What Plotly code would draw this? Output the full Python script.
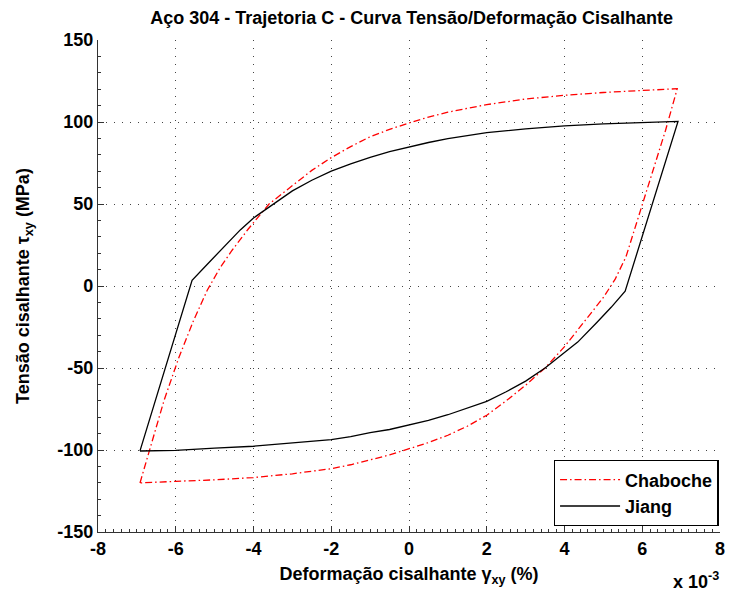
import plotly.graph_objects as go

# Shear strain (x 10^-3) and shear stress (MPa) for the closed hysteresis loops
chab_up_x = [-6.92, -6.6, -6.3, -5.93, -5.55, -5.19, -4.85, -4.55, -4.14, -3.6,
             -3.0, -2.5, -2.0, -1.5, -1.0, -0.5, 0.0, 0.5, 1.0, 1.5, 2.0, 3.0, 4.0,
             5.0, 6.0, 6.9]
chab_up_y = [-120.1, -94, -69.7, -44.3, -21.5, -2.6, 11.5, 21.8, 34.6, 50,
             61, 70.5, 78.3, 85, 91, 95.5, 99.4, 103, 106, 108.5, 110.6, 114, 116.3,
             118, 119.3, 120.3]
chab_dn_x = [6.9, 6.6, 6.3, 6.06, 5.58, 5.3, 5.0, 4.75, 4.5, 4.0, 3.5, 3.0, 2.5, 2.0,
             1.5, 1.0, 0.5, 0.0, -0.5, -1.0, -1.5, -2.0, -3.0, -4.0, -5.0, -6.0, -6.92]
chab_dn_y = [120.3, 95, 72.6, 54.3, 17.7, 4, -7, -14.5, -22, -37, -50, -60.5, -70, -78.8,
             -85.5, -91, -95.5, -99.2, -103, -106, -109, -111.4, -114.5, -116.8, -118.2,
             -119.1, -120.1]

jiang_up_x = [-6.92, -5.58, -5.2, -4.85, -4.34, -4.0, -3.5, -3.0, -2.5, -2.0, -1.5,
              -1.0, -0.5, 0.0, 0.5, 1.0, 1.5, 2.0, 3.0, 4.0, 5.0, 6.0, 6.92]
jiang_up_y = [-100.5, 3.5, 13, 21.8, 34.2, 41.5, 50, 58, 64.5, 70.1, 74.5,
              78.5, 82, 84.8, 87.5, 89.8, 91.8, 93.5, 95.8, 97.6, 98.8, 99.6, 100.4]
jiang_dn_x = [6.92, 5.56, 5.2, 4.85, 4.34, 4.0, 3.5, 3.0, 2.5, 2.0, 1.5,
              1.0, 0.5, 0.0, -0.5, -1.0, -1.5, -2.0, -3.0, -4.0, -5.0, -6.0, -6.92]
jiang_dn_y = [100.4, -3.2, -13, -21.8, -34.2, -40.5, -50, -58, -64.5, -70.3, -74.5,
              -78.5, -82, -84.9, -87.5, -89.4, -91.8, -93.7, -95.8, -97.7, -98.9, -100.2, -100.6]

x_ticks = [-8, -6, -4, -2, 0, 2, 4, 6, 8]
y_ticks = [-150, -100, -50, 0, 50, 100, 150]

FONT = "Liberation Sans"

fig = go.Figure()
fig.add_trace(go.Scatter(
    x=chab_up_x + chab_dn_x[1:], y=chab_up_y + chab_dn_y[1:],
    mode="lines", name="Chaboche",
    line=dict(color="#ff0000", width=1.3, dash="7px,3px,1.5px,3px"),
))
fig.add_trace(go.Scatter(
    x=jiang_up_x + jiang_dn_x[1:], y=jiang_up_y + jiang_dn_y[1:],
    mode="lines", name="Jiang",
    line=dict(color="#000000", width=1.3),
))

axis_common = dict(
    showline=True, linecolor="#333333", linewidth=1.2,
    ticks="inside", ticklen=6, tickcolor="#333333",
    showgrid=True, gridcolor="#444444", gridwidth=1, griddash="1px,7px",
    zeroline=False, mirror=False,
    tickfont=dict(family=FONT, size=18, color="black", weight="bold"),
)

fig.update_xaxes(
    range=[-8, 8], tickvals=x_ticks, ticktext=[str(v) for v in x_ticks],
    minor=dict(ticks="inside", ticklen=2.5, dtick=0.2, tickcolor="#333333", showgrid=False),
    title=dict(text="Deformação cisalhante γ<sub>xy</sub> (%)", standoff=9,
               font=dict(family=FONT, size=18, color="black", weight="bold")),
    **axis_common,
)
fig.update_yaxes(
    range=[-150, 150], tickvals=y_ticks, ticktext=[str(v) for v in y_ticks],
    minor=dict(ticks="inside", ticklen=2.5, dtick=10, tickcolor="#333333", showgrid=False),
    title=dict(text="Tensão cisalhante τ<sub>xy</sub> (MPa)", standoff=22,
               font=dict(family=FONT, size=18, color="black", weight="bold")),
    **axis_common,
)

fig.add_annotation(
    text="x 10<sup>-3</sup>", xref="paper", yref="paper", x=0.962, y=-0.098,
    xanchor="center", yanchor="middle", showarrow=False,
    font=dict(family=FONT, size=18, color="black", weight="bold"),
)

fig.update_layout(
    width=733, height=595,
    margin=dict(l=98, r=8, t=40, b=63),
    paper_bgcolor="white", plot_bgcolor="white",
    title=dict(text="Aço 304 - Trajetoria C - Curva Tensão/Deformação Cisalhante",
               x=0.5615, xanchor="center", y=1 - 18 / 595, yanchor="middle",
               font=dict(family=FONT, size=18, color="black", weight="bold")),
    legend=dict(
        x=0.998, y=0.012, xanchor="right", yanchor="bottom",
        bgcolor="white", bordercolor="black", borderwidth=1.3,
        font=dict(family=FONT, size=18, color="black", weight="bold"),
        itemwidth=60, tracegroupgap=0,
    ),
    showlegend=True,
)

fig.write_html("out.html")
